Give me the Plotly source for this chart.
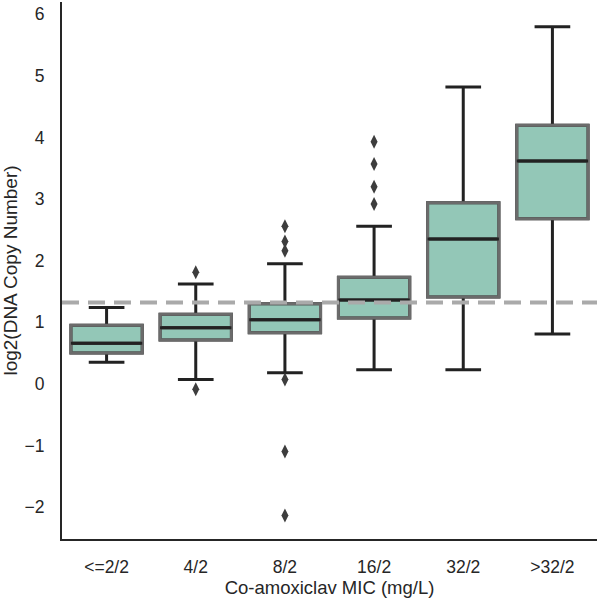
import plotly.graph_objects as go

# ---- data ----
categories = ["<=2/2", "4/2", "8/2", "16/2", "32/2", ">32/2"]
lower_whisker = [0.35, 0.07, 0.18, 0.23, 0.23, 0.81]
q1_vals = [0.50, 0.71, 0.83, 1.07, 1.41, 2.68]
median_vals = [0.66, 0.91, 1.04, 1.36, 2.35, 3.62]
q3_vals = [0.95, 1.13, 1.30, 1.73, 2.94, 4.20]
upper_whisker = [1.24, 1.62, 1.95, 2.56, 4.82, 5.80]

outlier_cat = ["4/2", "4/2",
               "8/2", "8/2", "8/2", "8/2", "8/2", "8/2",
               "16/2", "16/2", "16/2", "16/2"]
outlier_vals = [1.81, -0.09,
                2.56, 2.31, 2.16, 0.07, -1.10, -2.14,
                3.93, 3.57, 3.20, 2.92]

threshold = 1.32

# ---- styles ----
FILL = "#93c7b7"
EDGE = "#6b6b6b"
DARK = "#222222"
BOX_W = 0.8
FONT = "Liberation Sans, Arial, sans-serif"

xpos = list(range(len(categories)))
out_x = [categories.index(c) for c in outlier_cat]

fig = go.Figure()
fig.add_trace(go.Box(
    x=xpos, q1=q1_vals, median=median_vals, q3=q3_vals,
    lowerfence=lower_whisker, upperfence=upper_whisker,
    width=BOX_W, whiskerwidth=0.5, fillcolor=FILL,
    line=dict(color=DARK, width=3), boxpoints=False,
    showlegend=False, hoverinfo="y",
))
fig.add_trace(go.Scatter(
    x=out_x, y=outlier_vals, mode="markers",
    marker=dict(symbol="diamond-tall", size=10, color="#3d3d3d"),
    showlegend=False,
))

shapes = []
for i, (a, b) in enumerate(zip(q1_vals, q3_vals)):
    shapes.append(dict(type="rect", xref="x", yref="y",
                       x0=i - BOX_W / 2, x1=i + BOX_W / 2, y0=a, y1=b,
                       line=dict(color=EDGE, width=3), layer="above"))
for i, m in enumerate(median_vals):
    shapes.append(dict(type="line", xref="x", yref="y",
                       x0=i - BOX_W / 2, x1=i + BOX_W / 2, y0=m, y1=m,
                       line=dict(color=DARK, width=3), layer="above"))
shapes.append(dict(type="line", xref="paper", yref="y", x0=0, x1=1,
                   y0=threshold, y1=threshold,
                   line=dict(color="#aaaaaa", width=4, dash="17px,9px"),
                   layer="above"))

fig.update_layout(
    width=600, height=599,
    margin=dict(l=62, r=3, t=2, b=60, autoexpand=False),
    plot_bgcolor="white", paper_bgcolor="white",
    font=dict(family=FONT, size=17, color="#262626"),
    shapes=shapes,
    xaxis=dict(
        range=[-0.5, 5.5], tickvals=xpos, ticktext=categories,
        showline=True, linecolor="#262626", linewidth=2,
        showgrid=False, zeroline=False, ticks="",
        ticklabelstandoff=11, tickfont=dict(size=17.5),
        automargin=False,
        title=dict(text="Co-amoxiclav MIC (mg/L)", standoff=4,
                   font=dict(size=18.5)),
    ),
    yaxis=dict(
        range=[-2.52, 6.2], tickvals=[-2, -1, 0, 1, 2, 3, 4, 5, 6],
        showline=True, linecolor="#262626", linewidth=2,
        showgrid=False, zeroline=False, ticks="",
        ticklabelstandoff=12, tickfont=dict(size=17.5),
        automargin=False,
        title=dict(text="log2(DNA Copy Number)", standoff=5,
                   font=dict(size=19)),
    ),
)

fig.write_html("out.html",
               config={"displayModeBar": False},
               post_script="document.body.style.margin='0';")
